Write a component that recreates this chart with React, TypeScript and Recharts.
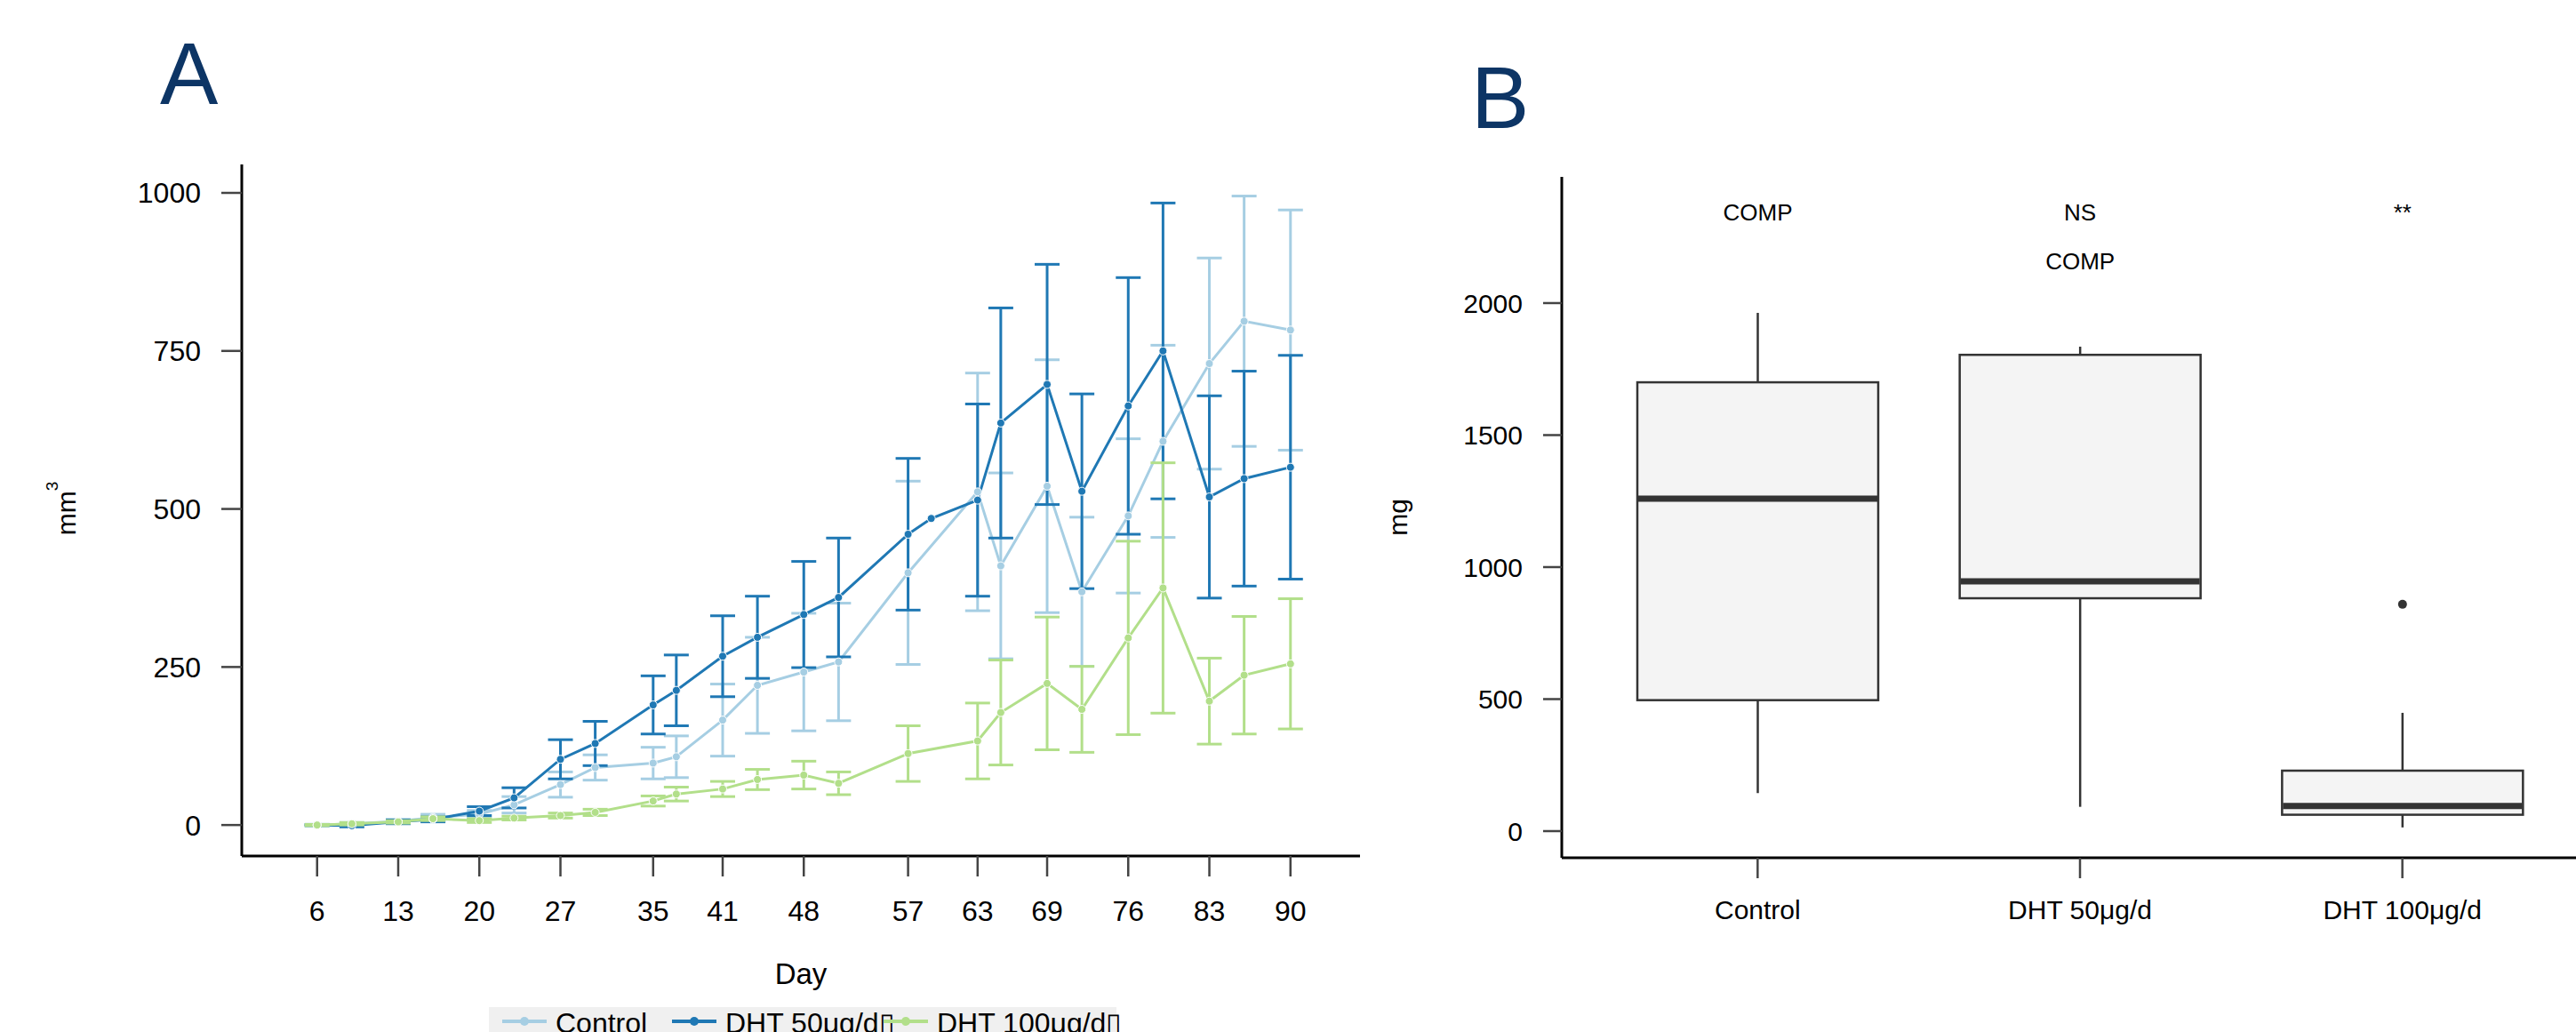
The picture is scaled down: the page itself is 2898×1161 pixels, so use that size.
import React from 'react';
import {
  LineChart,
  Line,
  XAxis,
  YAxis,
  ErrorBar,
  Legend,
  Label,
  ComposedChart,
  Bar,
} from 'recharts';

const FONT = '"Liberation Sans", Arial, Helvetica, sans-serif';

// ---- Panel A: volume over time (mean ± SE) ----
const days = [6, 9, 13, 16, 20, 23, 27, 30, 35, 37, 41, 44, 48, 51, 57, 59, 63, 65, 69, 72, 76, 79, 83, 86, 90];
const dayTicks = [6, 13, 20, 27, 35, 41, 48, 57, 63, 69, 76, 83, 90];
const volumeTicks = [0, 250, 500, 750, 1000];

const controlMean = [0, 2, 6, 12, 17, 32, 64, 91, 98, 108, 166, 221, 242, 258, 399, null, 527, 410, 536, 369, 489, 607, 730, 797, 783];
const controlSe = [1, 2, 3, 5, 6, 13, 20, 20, 25, 33, 57, 76, 93, 93, 145, null, 188, 147, 200, 118, 122, 152, 167, 198, 190];
const dht50Mean = [0, -1, 5, 9, 22, 43, 104, 129, 190, 213, 267, 297, 333, 360, 460, 485, 514, 636, 697, 528, 663, 750, 519, 548, 566];
const dht50Se = [1, 2, 3, 4, 7, 16, 31, 35, 46, 56, 64, 65, 84, 94, 120, null, 152, 182, 190, 154, 203, 234, 160, 170, 177];
const dht100Mean = [0, 2, 5, 10, 7, 11, 15, 20, 38, 49, 57, 72, 79, 66, 113, null, 133, 178, 224, 183, 296, 375, 196, 237, 255];
const dht100Se = [1, 2, 2, 3, 3, 3, 4, 5, 8, 11, 12, 16, 22, 18, 44, null, 60, 83, 105, 68, 153, 198, 68, 93, 103];

const growthData = days.map((day, i) => ({
  day,
  control: controlMean[i],
  controlErr: controlSe[i],
  dht50: dht50Mean[i],
  dht50Err: dht50Se[i],
  dht100: dht100Mean[i],
  dht100Err: dht100Se[i],
}));

const growthSeries = [
  { key: 'control', err: 'controlErr', name: 'Control', color: '#a6cee3', suffix: '' },
  { key: 'dht50', err: 'dht50Err', name: 'DHT 50μg/d', color: '#1f78b4', suffix: '▯' },
  { key: 'dht100', err: 'dht100Err', name: 'DHT 100μg/d', color: '#b2df8a', suffix: '▯' },
];

// ---- Panel B: boxplot of mass ----
const groups = ['Control', 'DHT 50μg/d', 'DHT 100μg/d'];
const whiskerLow = [144, 92, 14];
const quart1 = [496, 882, 62];
const medians = [1259, 946, 95];
const quart3 = [1700, 1804, 229];
const whiskerHigh = [1963, 1835, 448];
const outliers = [[], [], [859]];
const sigTop = ['COMP', 'NS', '**'];
const sigBottom = ['', 'COMP', ''];
const massTicks = [0, 500, 1000, 1500, 2000];

const boxData = groups.map((group, i) => ({
  group,
  range: [whiskerLow[i], whiskerHigh[i]],
  q1: quart1[i],
  median: medians[i],
  q3: quart3[i],
  outliers: outliers[i],
  sigTop: sigTop[i],
  sigBottom: sigBottom[i],
}));

const SIG_TOP_Y = 2313;
const SIG_BOTTOM_Y = 2128;

const legendOffsets = [15, 206, 444];

// keeps the series order of the original legend (recharts sorts by name)
const GrowthLegend = (props: any) => {
  const payload = props.payload || [];
  return (
    <div style={{ position: 'relative', width: 706, height: 60, background: '#f0f0f0' }}>
      {growthSeries.map((s, i) => {
        const entry = payload.find((p: any) => p.dataKey === s.key || p.value === s.name);
        const color = entry && entry.color ? entry.color : s.color;
        return (
          <div
            key={s.key}
            style={{
              position: 'absolute',
              left: legendOffsets[i],
              top: 2,
              display: 'flex',
              alignItems: 'center',
              whiteSpace: 'nowrap',
            }}
          >
            <svg width={50} height={32}>
              <line x1={0} y1={14} x2={50} y2={14} stroke={color} strokeWidth={4} />
              <circle cx={25} cy={14} r={5} fill={color} />
            </svg>
            <span style={{ marginLeft: 10, fontSize: 32, lineHeight: '32px', fontFamily: FONT, color: '#000' }}>
              {s.name}
              {s.suffix}
            </span>
          </div>
        );
      })}
    </div>
  );
};

const DayTitle = (props: any) => {
  const vb = props.viewBox || { x: 272, y: 963, width: 1258 };
  return (
    <text x={vb.x + vb.width / 2} y={vb.y + 144} textAnchor="middle" fontSize={33} fontFamily={FONT} fill="#000">
      Day
    </text>
  );
};

const VolumeTitle = (props: any) => {
  const vb = props.viewBox || { x: 172, y: 185, width: 100, height: 778 };
  const x = vb.x + vb.width - 187;
  const y = vb.y + vb.height / 2 - 2;
  return (
    <text x={x} y={y} transform={`rotate(-90 ${x} ${y})`} textAnchor="middle" fontSize={30} fontFamily={FONT} fill="#000">
      mm
      <tspan dy={-20} fontSize={19}>3</tspan>
    </text>
  );
};

const MassTitle = (props: any) => {
  const vb = props.viewBox || { x: 117, y: 199, width: 100, height: 766 };
  const x = vb.x + vb.width - 174;
  const y = vb.y + vb.height / 2;
  return (
    <text x={x} y={y} transform={`rotate(-90 ${x} ${y})`} textAnchor="middle" fontSize={30} fontFamily={FONT} fill="#000">
      mg
    </text>
  );
};

// draws whiskers, box, median, outliers and labels; pixel positions come from the bar's own scaled rect
const BoxShape = (props: any) => {
  const { x, y, width, height, payload } = props;
  if (payload == null || x == null) return null;
  const [lo, hi] = payload.range;
  const top = Math.min(y, y + height);
  const bot = Math.max(y, y + height);
  const px = (v: number) => bot - ((v - lo) / (hi - lo)) * (bot - top);
  const cx = x + width / 2;
  const stroke = '#333333';
  return (
    <g>
      <line x1={cx} x2={cx} y1={px(hi)} y2={px(payload.q3)} stroke={stroke} strokeWidth={2.5} />
      <line x1={cx} x2={cx} y1={px(payload.q1)} y2={px(lo)} stroke={stroke} strokeWidth={2.5} />
      <rect
        x={x}
        y={px(payload.q3)}
        width={width}
        height={px(payload.q1) - px(payload.q3)}
        fill="#f4f4f4"
        stroke={stroke}
        strokeWidth={2.5}
      />
      <line x1={x + 1} x2={x + width - 1} y1={px(payload.median)} y2={px(payload.median)} stroke={stroke} strokeWidth={7} />
      {payload.outliers.map((o: number, i: number) => (
        <circle key={i} cx={cx} cy={px(o)} r={5} fill={stroke} />
      ))}
      <text x={cx} y={px(SIG_TOP_Y)} textAnchor="middle" fontSize={26} fontFamily={FONT} fill="#000">
        {payload.sigTop}
      </text>
      {payload.sigBottom ? (
        <text x={cx} y={px(SIG_BOTTOM_Y)} textAnchor="middle" fontSize={26} fontFamily={FONT} fill="#000">
          {payload.sigBottom}
        </text>
      ) : null}
    </g>
  );
};

const titleStyle: React.CSSProperties = {
  position: 'absolute',
  fontFamily: FONT,
  fontSize: 98,
  lineHeight: '98px',
  color: '#0d3565',
};

export default function App() {
  return (
    <div
      style={{
        position: 'absolute',
        left: 0,
        top: 0,
        width: 2898,
        height: 1161,
        background: '#fff',
        overflow: 'hidden',
        fontFamily: FONT,
      }}
    >
      <div style={{ position: 'absolute', left: 0, top: 0 }}>
        <LineChart width={1540} height={1161} data={growthData} margin={{ top: 185, right: 10, left: 172, bottom: 98 }}>
          <XAxis
            dataKey="day"
            type="number"
            domain={[-0.5, 96]}
            ticks={dayTicks}
            interval={0}
            allowDataOverflow
            height={100}
            tickSize={23}
            tickMargin={27}
            axisLine={{ stroke: '#000', strokeWidth: 3 }}
            tickLine={{ stroke: '#444', strokeWidth: 2.5 }}
            tick={{ fontSize: 32, fill: '#000', fontFamily: FONT }}
          >
            <Label content={DayTitle} />
          </XAxis>
          <YAxis
            type="number"
            domain={[-49, 1045]}
            ticks={volumeTicks}
            interval={0}
            allowDataOverflow
            width={100}
            tickSize={23}
            tickMargin={23}
            axisLine={{ stroke: '#000', strokeWidth: 3 }}
            tickLine={{ stroke: '#444', strokeWidth: 2.5 }}
            tick={{ fontSize: 32, fill: '#000', fontFamily: FONT }}
          >
            <Label content={VolumeTitle} />
          </YAxis>
          {growthSeries.map((s) => (
            <Line
              key={s.key}
              type="linear"
              dataKey={s.key}
              name={s.name}
              stroke={s.color}
              strokeWidth={3}
              connectNulls
              dot={{ r: 4.5, fill: s.color, stroke: '#fff', strokeWidth: 1 }}
              activeDot={false}
              isAnimationActive={false}
            >
              <ErrorBar dataKey={s.err} width={14} stroke={s.color} strokeWidth={3} direction="y" />
            </Line>
          ))}
          <Legend
            layout="horizontal"
            verticalAlign="middle"
            align="center"
            content={<GrowthLegend />}
            wrapperStyle={{ top: 1133, left: 550, width: 706, height: 60 }}
          />
        </LineChart>
      </div>

      <div style={{ position: 'absolute', left: 1540, top: 0 }}>
        <ComposedChart width={1358} height={1161} data={boxData} margin={{ top: 199, right: 0, left: 117, bottom: 96 }}>
          <XAxis
            dataKey="group"
            type="category"
            padding={{ left: 39, right: 14 }}
            interval={0}
            height={100}
            tickSize={23}
            tickMargin={25}
            axisLine={{ stroke: '#000', strokeWidth: 3 }}
            tickLine={{ stroke: '#444', strokeWidth: 2.5 }}
            tick={{ fontSize: 30, fill: '#000', fontFamily: FONT }}
          />
          <YAxis
            type="number"
            domain={[-101, 2478]}
            ticks={massTicks}
            interval={0}
            allowDataOverflow
            width={100}
            tickSize={21}
            tickMargin={23}
            axisLine={{ stroke: '#000', strokeWidth: 3 }}
            tickLine={{ stroke: '#444', strokeWidth: 2.5 }}
            tick={{ fontSize: 30, fill: '#000', fontFamily: FONT }}
          >
            <Label content={MassTitle} />
          </YAxis>
          <Bar dataKey="range" barSize={271} shape={<BoxShape />} isAnimationActive={false} />
        </ComposedChart>
      </div>

      <div style={{ ...titleStyle, left: 180, top: 34 }}>A</div>
      <div style={{ ...titleStyle, left: 1655, top: 61 }}>B</div>
    </div>
  );
}
